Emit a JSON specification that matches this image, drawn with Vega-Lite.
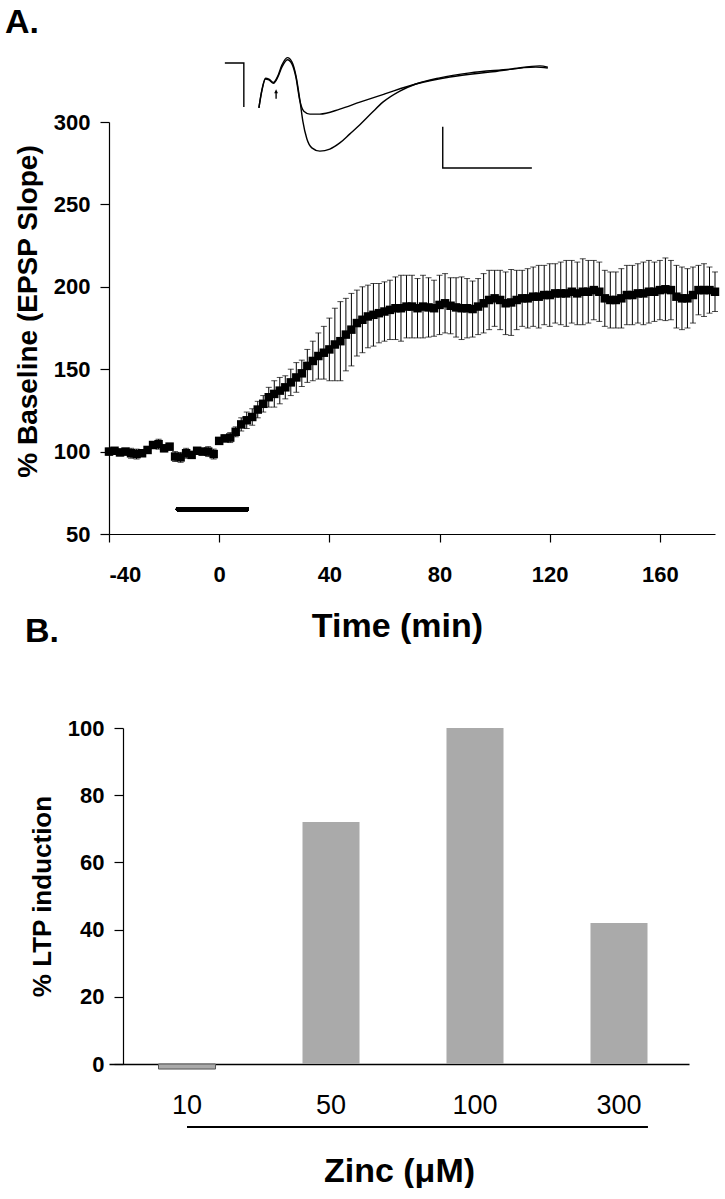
{
 "$schema": "https://vega.github.io/schema/vega-lite/v6.json",
 "padding": {"left": 5, "top": 5, "right": 0, "bottom": 0},
 "background": "white",
 "bounds": "flush",
 "spacing": 194,
 "config": {
  "view": {"stroke": null},
  "font": "Liberation Sans",
  "axis": {"grid": false, "domainColor": "black", "tickColor": "black", "labelColor": "black", "titleColor": "black", "domainWidth": 1.2, "tickWidth": 1.2, "labelFont": "Liberation Sans", "titleFont": "Liberation Sans"},
  "title": {"color": "black", "font": "Liberation Sans"}
 },
 "datasets": {
  "ltp": [
   {"t":-40,"m":100,"e":2},{"t":-38,"m":100.5,"e":1.5},{"t":-36,"m":99.5,"e":2},{"t":-34,"m":100,"e":2},{"t":-32,"m":99,"e":3},
   {"t":-30,"m":98.5,"e":3},{"t":-28,"m":99,"e":2},{"t":-26,"m":101,"e":2},{"t":-24,"m":104,"e":2},{"t":-22,"m":104.5,"e":3},
   {"t":-20,"m":102,"e":2},{"t":-18,"m":103,"e":2},{"t":-16,"m":97,"e":3},{"t":-14,"m":96.5,"e":3},{"t":-12,"m":99,"e":3},
   {"t":-10,"m":98,"e":2},{"t":-8,"m":100.5,"e":2},{"t":-6,"m":100,"e":2},{"t":-4,"m":100,"e":3},{"t":-2,"m":98.5,"e":3},
   {"t":0,"m":106.5,"e":2},{"t":2,"m":108,"e":2},{"t":4,"m":108.5,"e":3},{"t":6,"m":112,"e":3},{"t":8,"m":116.5,"e":4},
   {"t":10,"m":119,"e":5},{"t":12,"m":121,"e":5},{"t":14,"m":125.5,"e":5},{"t":16,"m":129,"e":5},{"t":18,"m":133,"e":6},
   {"t":20,"m":135,"e":8},{"t":22,"m":137,"e":8},{"t":24,"m":139,"e":7},{"t":26,"m":142,"e":8},{"t":28,"m":145,"e":9},
   {"t":30,"m":147.5,"e":8},{"t":32,"m":152,"e":10},{"t":34,"m":155,"e":12},{"t":36,"m":158,"e":14},{"t":38,"m":160,"e":16},
   {"t":40,"m":162,"e":19},{"t":42,"m":165,"e":22},{"t":44,"m":167,"e":24},{"t":46,"m":171,"e":22},{"t":48,"m":174,"e":22},
   {"t":50,"m":178,"e":20},{"t":52,"m":180,"e":20},{"t":54,"m":182,"e":19},{"t":56,"m":183,"e":19},{"t":58,"m":184,"e":18},
   {"t":60,"m":185,"e":18},{"t":62,"m":186,"e":18},{"t":64,"m":187,"e":19},{"t":66,"m":187,"e":20},{"t":68,"m":188,"e":19},
   {"t":70,"m":188,"e":19},{"t":72,"m":187,"e":18},{"t":74,"m":188,"e":19},{"t":76,"m":187.5,"e":18},{"t":78,"m":187,"e":17},
   {"t":80,"m":189,"e":18},{"t":82,"m":190,"e":18},{"t":84,"m":188.5,"e":17},{"t":86,"m":187.5,"e":18},{"t":88,"m":187,"e":19},
   {"t":90,"m":187,"e":18},{"t":92,"m":186.5,"e":17},{"t":94,"m":188,"e":17},{"t":96,"m":190,"e":18},{"t":98,"m":192,"e":18},
   {"t":100,"m":193,"e":17},{"t":102,"m":192,"e":18},{"t":104,"m":190,"e":19},{"t":106,"m":190.5,"e":20},{"t":108,"m":192,"e":18},
   {"t":110,"m":193,"e":17},{"t":112,"m":193,"e":18},{"t":114,"m":194,"e":18},{"t":116,"m":194,"e":19},{"t":118,"m":195,"e":18},
   {"t":120,"m":195,"e":19},{"t":122,"m":196,"e":18},{"t":124,"m":196,"e":19},{"t":126,"m":196,"e":20},{"t":128,"m":197,"e":19},
   {"t":130,"m":196,"e":19},{"t":132,"m":197,"e":20},{"t":134,"m":197,"e":19},{"t":136,"m":198,"e":18},{"t":138,"m":197,"e":18},
   {"t":140,"m":193,"e":17},{"t":142,"m":192,"e":17},{"t":144,"m":192,"e":17},{"t":146,"m":193,"e":18},{"t":148,"m":195,"e":18},
   {"t":150,"m":195,"e":18},{"t":152,"m":196,"e":18},{"t":154,"m":196,"e":19},{"t":156,"m":197,"e":19},{"t":158,"m":197,"e":18},
   {"t":160,"m":198,"e":18},{"t":162,"m":198.5,"e":19},{"t":164,"m":198,"e":18},{"t":166,"m":194,"e":19},{"t":168,"m":193,"e":19},
   {"t":170,"m":193,"e":18},{"t":172,"m":195,"e":17},{"t":174,"m":198,"e":15},{"t":176,"m":198,"e":16},{"t":178,"m":198,"e":14},
   {"t":180,"m":197,"e":12}
  ],
  "trace": [
   {"sweep":"ctl","i":1,"ms":3.82,"mv":-1.09},{"sweep":"ctl","i":2,"ms":4.15,"mv":-0.68},{"sweep":"ctl","i":3,"ms":4.56,"mv":-0.39},
   {"sweep":"ctl","i":4,"ms":4.94,"mv":-0.41},{"sweep":"ctl","i":5,"ms":5.46,"mv":-0.49},{"sweep":"ctl","i":6,"ms":5.95,"mv":-0.34},
   {"sweep":"ctl","i":7,"ms":6.40,"mv":-0.10},{"sweep":"ctl","i":8,"ms":7.02,"mv":0.08},{"sweep":"ctl","i":9,"ms":7.52,"mv":-0.02},
   {"sweep":"ctl","i":10,"ms":7.97,"mv":-0.34},{"sweep":"ctl","i":11,"ms":8.42,"mv":-0.92},{"sweep":"ctl","i":12,"ms":8.86,"mv":-1.17},
   {"sweep":"ctl","i":13,"ms":9.54,"mv":-1.24},{"sweep":"ctl","i":14,"ms":10.66,"mv":-1.24},{"sweep":"ctl","i":15,"ms":12.90,"mv":-1.12},
   {"sweep":"ctl","i":16,"ms":15.15,"mv":-0.95},{"sweep":"ctl","i":17,"ms":17.95,"mv":-0.75},{"sweep":"ctl","i":18,"ms":21.43,"mv":-0.51},
   {"sweep":"ctl","i":19,"ms":25.25,"mv":-0.34},{"sweep":"ctl","i":20,"ms":29.74,"mv":-0.22},{"sweep":"ctl","i":21,"ms":34.90,"mv":-0.10},
   {"sweep":"ctl","i":22,"ms":36.24,"mv":-0.12},
   {"sweep":"post","i":1,"ms":3.82,"mv":-1.09},{"sweep":"post","i":2,"ms":4.15,"mv":-0.66},{"sweep":"post","i":3,"ms":4.56,"mv":-0.37},
   {"sweep":"post","i":4,"ms":4.94,"mv":-0.39},{"sweep":"post","i":5,"ms":5.46,"mv":-0.47},{"sweep":"post","i":6,"ms":5.95,"mv":-0.31},
   {"sweep":"post","i":7,"ms":6.40,"mv":-0.05},{"sweep":"post","i":8,"ms":7.02,"mv":0.13},{"sweep":"post","i":9,"ms":7.52,"mv":0.03},
   {"sweep":"post","i":10,"ms":7.97,"mv":-0.30},{"sweep":"post","i":11,"ms":8.42,"mv":-0.90},{"sweep":"post","i":12,"ms":8.75,"mv":-1.41},
   {"sweep":"post","i":13,"ms":9.20,"mv":-1.84},{"sweep":"post","i":14,"ms":9.76,"mv":-2.06},{"sweep":"post","i":15,"ms":10.66,"mv":-2.14},
   {"sweep":"post","i":16,"ms":11.78,"mv":-2.09},{"sweep":"post","i":17,"ms":12.90,"mv":-1.94},{"sweep":"post","i":18,"ms":14.03,"mv":-1.72},
   {"sweep":"post","i":19,"ms":15.15,"mv":-1.50},{"sweep":"post","i":20,"ms":16.49,"mv":-1.21},{"sweep":"post","i":21,"ms":17.73,"mv":-0.95},
   {"sweep":"post","i":22,"ms":19.64,"mv":-0.68},{"sweep":"post","i":23,"ms":21.43,"mv":-0.51},{"sweep":"post","i":24,"ms":24.12,"mv":-0.36},
   {"sweep":"post","i":25,"ms":27.49,"mv":-0.24},{"sweep":"post","i":26,"ms":31.98,"mv":-0.15},{"sweep":"post","i":27,"ms":35.35,"mv":-0.07},
   {"sweep":"post","i":28,"ms":36.24,"mv":-0.10}
  ],
  "scalemarks": [
   {"part":"stim","i":1,"ms":0,"mv":0},{"part":"stim","i":2,"ms":2.13,"mv":0},{"part":"stim","i":3,"ms":2.13,"mv":-1.07},
   {"part":"bar","i":1,"ms":24.45,"mv":-1.55},{"part":"bar","i":2,"ms":24.45,"mv":-2.55},{"part":"bar","i":3,"ms":34.45,"mv":-2.55}
  ],
  "zinc": [
   {"zinc":"10","ltp":-1.5},{"zinc":"50","ltp":72},{"zinc":"100","ltp":100},{"zinc":"300","ltp":42}
  ]
 },
 "vconcat": [
  {
   "width": 606, "height": 412,
   "title": {"text": "A.", "anchor": "start", "frame": "group", "fontSize": 34, "fontWeight": "bold", "offset": 15, "dx": -104},
   "layer": [
    {
     "data": {"name": "ltp"},
     "layer": [
      {
       "mark": {"type": "errorbar", "ticks": {"size": 6, "color": "black", "strokeWidth": 1}, "rule": {"color": "black", "strokeWidth": 1}},
       "encoding": {
        "x": {"field": "t", "type": "quantitative", "scale": {"domain": [-40, 180], "nice": false, "zero": false},
              "axis": {"values": [-40, 0, 40, 80, 120, 160], "tickSize": 8, "labelPadding": 22, "labelFontSize": 22, "labelFontWeight": "bold", "labelExpr": "replace(datum.label, '−', '-')", "title": "Time (min)", "titleFontSize": 34, "titleFontWeight": "bold", "titlePadding": 24, "titleX": 288}},
        "y": {"field": "m", "type": "quantitative", "scale": {"domain": [50, 300], "nice": false, "zero": false},
              "axis": {"values": [50, 100, 150, 200, 250, 300], "tickSize": 9, "labelPadding": 10, "labelFontSize": 22, "labelFontWeight": "bold", "title": "% Baseline (EPSP Slope)", "titleFontSize": 28, "titleFontWeight": "bold", "titlePadding": 11, "titleY": 189}},
        "yError": {"field": "e"}
       }
      },
      {
       "mark": {"type": "square", "size": 72, "color": "black", "opacity": 1},
       "encoding": {"x": {"field": "t", "type": "quantitative"}, "y": {"field": "m", "type": "quantitative"}}
      },
      {
       "mark": {"type": "rule", "strokeWidth": 4, "color": "black", "strokeCap": "round"},
       "encoding": {"x": {"datum": -15, "type": "quantitative"}, "x2": {"datum": 10}, "y": {"datum": 65, "type": "quantitative"}}
      }
     ]
    },
    {
     "layer": [
      {
       "data": {"name": "trace"},
       "mark": {"type": "line", "color": "black", "strokeWidth": 1.4, "interpolate": "monotone"},
       "encoding": {
        "x": {"field": "ms", "type": "quantitative", "scale": {"domain": [-13, 55], "nice": false, "zero": false}, "axis": null},
        "y": {"field": "mv", "type": "quantitative", "scale": {"domain": [-11.432, -1.432], "nice": false, "zero": false}, "axis": null},
        "detail": {"field": "sweep"},
        "order": {"field": "i"}
       }
      },
      {
       "data": {"name": "scalemarks"},
       "mark": {"type": "line", "color": "black", "strokeWidth": 1.4},
       "encoding": {
        "x": {"field": "ms", "type": "quantitative"},
        "y": {"field": "mv", "type": "quantitative"},
        "detail": {"field": "part"},
        "order": {"field": "i"}
       }
      },
      {
       "data": {"values": [{"ms": 5.75, "mv": -0.75}]},
       "mark": {"type": "point", "shape": "arrow", "filled": true, "color": "black", "size": 90, "opacity": 1},
       "encoding": {"x": {"field": "ms", "type": "quantitative"}, "y": {"field": "mv", "type": "quantitative"}}
      }
     ]
    }
   ],
   "resolve": {"scale": {"x": "independent", "y": "independent"}}
  },
  {
   "width": 580, "height": 336,
   "title": {"text": "B.", "anchor": "start", "frame": "group", "fontSize": 34, "fontWeight": "bold", "offset": 68, "dx": -84},
   "data": {"name": "zinc"},
   "layer": [
    {
     "mark": {"type": "bar", "color": "#aaaaaa"},
     "encoding": {
      "x": {"field": "zinc", "type": "nominal", "sort": null,
            "scale": {"domain": ["10", "50", "100", "300"], "paddingInner": 0.604, "paddingOuter": 0.316, "align": 0.544},
            "axis": {"ticks": false, "labelAngle": 0, "labelPadding": 28, "labelFontSize": 27, "labelFontWeight": "normal", "title": "Zinc (μM)", "titleFontSize": 34, "titleFontWeight": "bold", "titlePadding": 36, "domainWidth": 1.5}},
      "y": {"field": "ltp", "type": "quantitative", "scale": {"domain": [0, 100], "nice": false},
            "axis": {"values": [0, 20, 40, 60, 80, 100], "tickSize": 9, "labelPadding": 10, "labelFontSize": 22, "labelFontWeight": "bold", "offset": -14, "title": "% LTP induction", "titleFontSize": 26, "titleFontWeight": "bold", "titlePadding": 12}},
      "stroke": {"condition": {"test": "datum.zinc === '10'", "value": "#555555"}, "value": null}
     }
    },
    {
     "mark": {"type": "rule", "strokeWidth": 2, "color": "black"},
     "encoding": {
      "x": {"datum": "10", "type": "nominal"},
      "x2": {"datum": "300", "bandPosition": 1},
      "y": {"datum": -18.75, "type": "quantitative"}
     }
    }
   ]
  }
 ]
}
